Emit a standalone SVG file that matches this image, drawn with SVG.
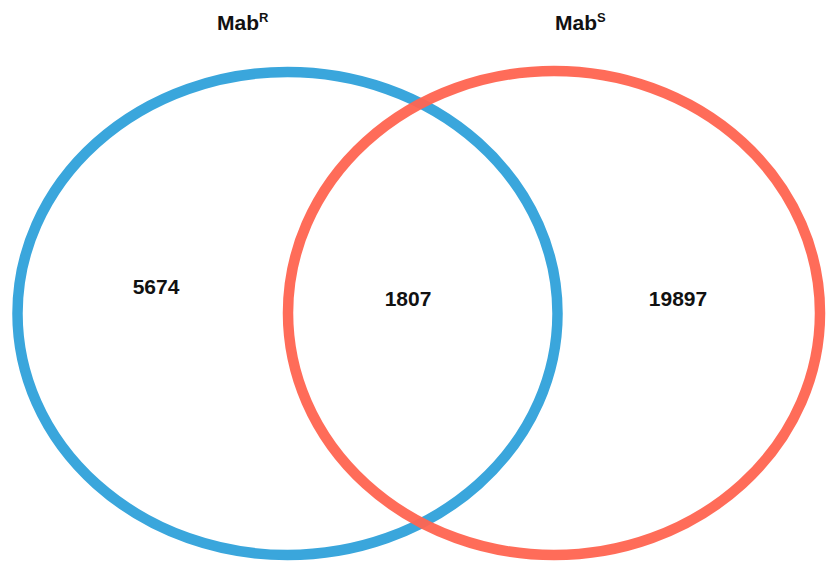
<svg xmlns="http://www.w3.org/2000/svg" width="829" height="563" viewBox="0 0 829 563">
<style>
.ring{fill:none;stroke-width:10.5}
.t{font-family:"Liberation Sans",Arial,sans-serif;font-weight:bold;fill:#111}
.lbl{font-size:21px}
.num{font-size:21px;text-anchor:middle}
</style>
<rect width="829" height="563" fill="#fff"/>
<g id="setR">
<ellipse class="ring" cx="287.5" cy="313.5" rx="270" ry="241.5" stroke="#3aa6dc"/>
<text class="t lbl" x="217" y="30">Mab<tspan font-size="13" dy="-8">R</tspan></text>
</g>
<g id="setS">
<ellipse class="ring" cx="554" cy="313" rx="266" ry="242" stroke="#ff6450" stroke-opacity="0.95"/>
<text class="t lbl" x="555" y="30">Mab<tspan font-size="13" dy="-8">S</tspan></text>
</g>
<g id="counts">
<text class="t num" x="156" y="294">5674</text>
<text class="t num" x="408" y="306">1807</text>
<text class="t num" x="678" y="306">19897</text>
</g>
</svg>
